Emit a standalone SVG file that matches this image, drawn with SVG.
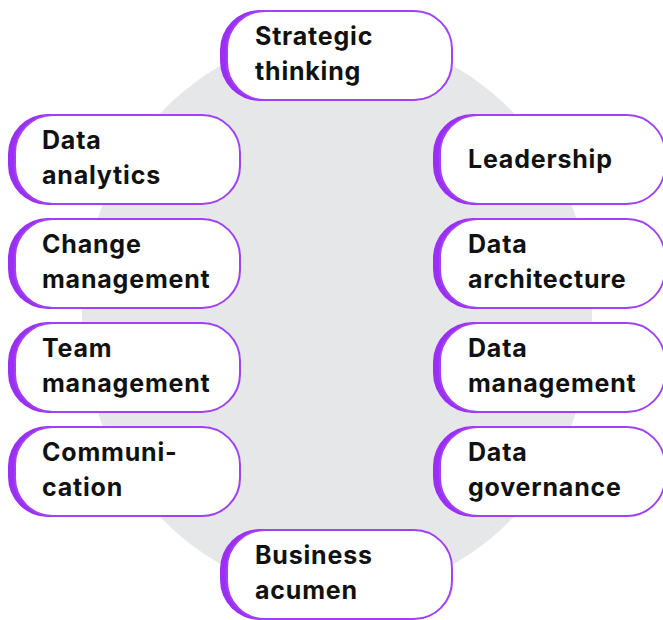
<svg xmlns="http://www.w3.org/2000/svg" width="663" height="620" viewBox="0 0 663 620">
<style>
.back{fill:#9b2ff3}
.face{fill:#ffffff;stroke:#a042f2;stroke-width:2}
.lbl{font-family:Inter,"Liberation Sans",sans-serif;font-weight:700;font-size:25px;letter-spacing:0.8px;fill:#111111}
</style>
<defs>
<g id="pill">
<rect class="back" x="0" y="0" width="222" height="91" rx="40"/>
<rect class="face" x="7" y="1" width="225" height="89" rx="38"/>
</g>
</defs>
<rect width="663" height="620" fill="#ffffff"/>
<ellipse cx="337" cy="315" rx="255" ry="280" fill="#e6e7e9"/>
<g id="connectors"/>
<g id="n-strategic"><use href="#pill" x="220" y="10"/><text class="lbl" x="255"><tspan x="255" y="45">Strategic</tspan><tspan x="255" y="80">thinking</tspan></text></g>
<g id="n-analytics"><use href="#pill" x="8" y="114"/><text class="lbl"><tspan x="42" y="149">Data</tspan><tspan x="42" y="184">analytics</tspan></text></g>
<g id="n-change"><use href="#pill" x="8" y="218"/><text class="lbl"><tspan x="42" y="253">Change</tspan><tspan x="42" y="288">management</tspan></text></g>
<g id="n-team"><use href="#pill" x="8" y="322"/><text class="lbl"><tspan x="42" y="357">Team</tspan><tspan x="42" y="392">management</tspan></text></g>
<g id="n-comm"><use href="#pill" x="8" y="426"/><text class="lbl"><tspan x="42" y="461">Communi-</tspan><tspan x="42" y="496">cation</tspan></text></g>
<g id="n-leadership"><use href="#pill" x="433" y="114"/><text class="lbl" x="468" y="168">Leadership</text></g>
<g id="n-architecture"><use href="#pill" x="433" y="218"/><text class="lbl"><tspan x="468" y="253">Data</tspan><tspan x="468" y="288">architecture</tspan></text></g>
<g id="n-management"><use href="#pill" x="433" y="322"/><text class="lbl"><tspan x="468" y="357">Data</tspan><tspan x="468" y="392">management</tspan></text></g>
<g id="n-governance"><use href="#pill" x="433" y="426"/><text class="lbl"><tspan x="468" y="461">Data</tspan><tspan x="468" y="496">governance</tspan></text></g>
<g id="n-business"><use href="#pill" x="220" y="529"/><text class="lbl"><tspan x="255" y="564">Business</tspan><tspan x="255" y="599">acumen</tspan></text></g>
</svg>
